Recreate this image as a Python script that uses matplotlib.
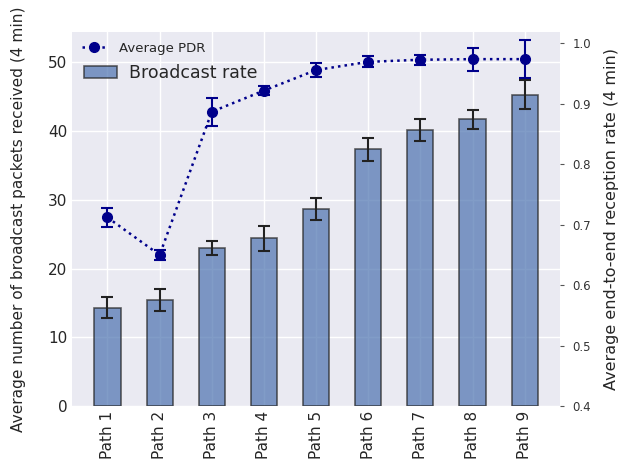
import numpy as np
import matplotlib.pyplot as plt
from matplotlib.lines import Line2D

paths = ['Path 1', 'Path 2', 'Path 3', 'Path 4', 'Path 5', 'Path 6', 'Path 7', 'Path 8', 'Path 9']
broadcast_rate = [14.3, 15.45, 23.0, 24.4, 28.6, 37.35, 40.2, 41.7, 45.25]
broadcast_err = [1.5, 1.6, 1.0, 1.8, 1.6, 1.7, 1.6, 1.4, 2.1]
avg_pdr = [0.712, 0.650, 0.887, 0.922, 0.956, 0.9695, 0.973, 0.974, 0.974]
pdr_err = [0.015, 0.008, 0.023, 0.008, 0.011, 0.009, 0.008, 0.019, 0.032]


def main():
    fig = plt.figure(figsize=(6.21, 4.63), dpi=100)
    ax = fig.add_axes([0.116, 0.123, 0.786, 0.808])
    ax.set_facecolor('#EAEAF2')
    for s in ax.spines.values():
        s.set_visible(False)
    ax.grid(True, color='white', linewidth=1.0)
    ax.set_axisbelow(True)

    x = np.arange(len(paths))
    bars = ax.bar(x, broadcast_rate, width=0.5, color='#4C72B0', alpha=0.7,
                  edgecolor='#222222', linewidth=1.2, label='Broadcast rate')
    ax.errorbar(x, broadcast_rate, yerr=broadcast_err, fmt='none', ecolor='#222222',
                elinewidth=1.5, capsize=4, capthick=1.5)
    ax.set_xlim(-0.68, 8.68)
    ax.set_ylim(0, 54.4)
    ax.set_yticks(np.arange(0, 51, 10))
    ax.set_xticks(x)
    ax.set_xticklabels(paths, rotation=90, fontsize=11, color='#262626')
    ax.tick_params(axis='both', length=0, labelsize=11, labelcolor='#262626')
    ax.set_ylabel('Average number of broadcast packets received (4 min)', fontsize=11.1,
                  color='#262626', labelpad=16)

    ax2 = ax.twinx()
    for s in ax2.spines.values():
        s.set_visible(False)
    ax2.grid(False)
    ax2.errorbar(x, avg_pdr, yerr=pdr_err, color='#00008B', linestyle=':', linewidth=1.8,
                 marker='o', markersize=7, elinewidth=1.5, capsize=4, capthick=1.5)
    ax2.set_ylim(0.4, 1.019)
    ax2.set_yticks(np.arange(0.4, 1.01, 0.1))
    ax2.set_yticklabels(['0.4', '0.5', '0.6', '0.7', '0.8', '0.9', '1.0'])
    ax2.tick_params(axis='y', length=3, width=0.8, pad=6, color='#555555', labelsize=8.5,
                    labelcolor='#333333')
    ax2.set_ylabel('Average end-to-end reception rate (4 min)', fontsize=11.5, color='#262626',
                   labelpad=9)

    line_handle = Line2D([], [], color='#00008B', linestyle=':', linewidth=1.8, marker='o',
                         markersize=7)
    leg1 = ax2.legend(handles=[line_handle], labels=['Average PDR'], loc='center left',
                      bbox_to_anchor=(0.02, 0.957), frameon=False, fontsize=9.5, borderpad=0,
                      borderaxespad=0, handlelength=1.8, handletextpad=1.0)
    for t in leg1.get_texts():
        t.set_color('#262626')
    ax2.add_artist(leg1)
    leg2 = ax2.legend(handles=[bars], loc='center left', bbox_to_anchor=(0.025, 0.89),
                      frameon=False, fontsize=12.5, borderpad=0, borderaxespad=0,
                      handlelength=1.9, handletextpad=0.7)
    for t in leg2.get_texts():
        t.set_color('#262626')


if __name__ == '__main__':
    main()
    plt.savefig('out.png', dpi=100)
